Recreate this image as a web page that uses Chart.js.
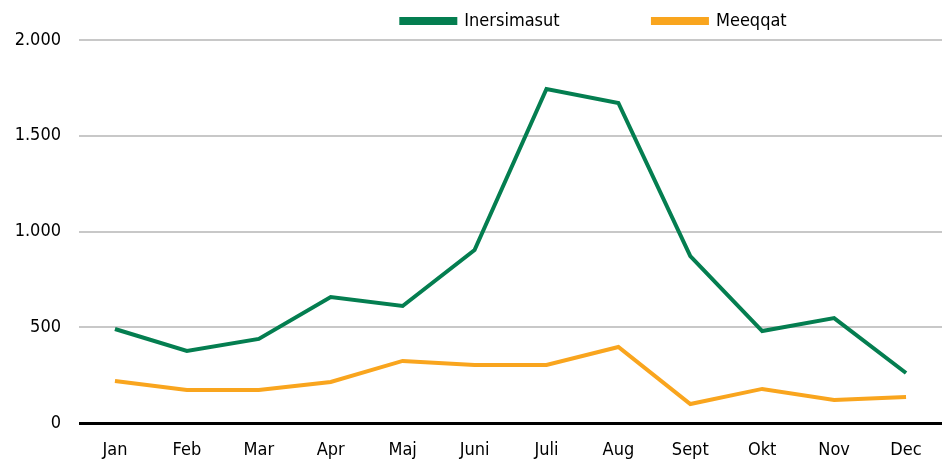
<!DOCTYPE html>
<html>
<head>
<meta charset="utf-8">
<script src="https://cdn.jsdelivr.net/npm/chart.js@4/dist/chart.umd.min.js"></script>
<style>
  html, body { margin: 0; padding: 0; background: #fff; }
  #wrap { width: 947px; height: 461px; position: relative; }
</style>
</head>
<body>
<div id="wrap"><canvas id="linjeChart"></canvas></div>
<script>
const months = ['Jan', 'Feb', 'Mar', 'Apr', 'Maj', 'Juni', 'Juli', 'Aug', 'Sept', 'Okt', 'Nov', 'Dec'];
const inersimasut = [491, 376, 439, 658, 611, 903, 1744, 1671, 872, 480, 548, 261];
const meeqqat = [219, 172, 172, 214, 324, 303, 303, 397, 99, 178, 120, 136];
const yTicks = [0, 500, 1000, 1500, 2000];

const FONT = "'Liberation Sans Narrow', 'DejaVu Sans Condensed', 'Arial Narrow', sans-serif";

// shift the legend to the right, like the original
const legendShift = {
    id: 'legendShift',
    afterLayout(chart) {
        chart.legend.left += 123;
        chart.legend.right += 123;
    }
};

document.addEventListener("DOMContentLoaded", function () {
    const ctx = document.getElementById('linjeChart').getContext('2d');

    new Chart(ctx, {
        type: 'line',
        data: {
            labels: months,
            datasets: [
                {
                    label: 'Inersimasut',
                    data: inersimasut,
                    borderColor: '#047e50',
                    backgroundColor: '#047e50',
                    borderWidth: 4,
                    pointRadius: 0,
                    tension: 0,
                    fill: false
                },
                {
                    label: 'Meeqqat',
                    data: meeqqat,
                    borderColor: '#f9a51e',
                    backgroundColor: '#f9a51e',
                    borderWidth: 4,
                    pointRadius: 0,
                    tension: 0,
                    fill: false
                }
            ]
        },
        options: {
            responsive: true,
            maintainAspectRatio: false,
            animation: false,
            layout: { padding: { top: 2, right: 5, bottom: 0, left: 0 } },
            plugins: {
                legend: {
                    display: true,
                    position: 'top',
                    labels: {
                        color: '#000',
                        font: { family: FONT, size: 18 },
                        boxWidth: 54,
                        boxHeight: 4,
                        padding: 10,
                        generateLabels(chart) {
                            const items = Chart.defaults.plugins.legend.labels.generateLabels(chart);
                            // empty spacer between the two entries
                            items.splice(1, 0, {
                                text: '  ',
                                fillStyle: 'rgba(0,0,0,0)',
                                strokeStyle: 'rgba(0,0,0,0)',
                                lineWidth: 0,
                                hidden: false
                            });
                            return items;
                        }
                    }
                },
                tooltip: { enabled: false }
            },
            scales: {
                x: {
                    offset: true,
                    afterFit(scale) {
                        scale.height = 38;
                    },
                    grid: { display: false, drawTicks: false },
                    border: { display: false },
                    ticks: {
                        color: '#000',
                        font: { family: FONT, size: 18 },
                        padding: 17,
                        maxRotation: 0
                    }
                },
                y: {
                    min: 0,
                    max: 2000,
                    afterBuildTicks(scale) {
                        scale.ticks = yTicks.map(v => ({ value: v }));
                    },
                    afterFit(scale) {
                        scale.width = 79;
                    },
                    grid: {
                        drawTicks: false,
                        lineWidth: ctx => ctx.tick && ctx.tick.value === 0 ? 3 : 2,
                        color: ctx => ctx.tick && ctx.tick.value === 0 ? '#000' : '#c8c8c8'
                    },
                    border: { display: false },
                    ticks: {
                        color: '#000',
                        font: { family: FONT, size: 18 },
                        padding: 18,
                        callback: v => v.toLocaleString('da-DK')
                    }
                }
            }
        },
        plugins: [legendShift]
    });
});
</script>
</body>
</html>
